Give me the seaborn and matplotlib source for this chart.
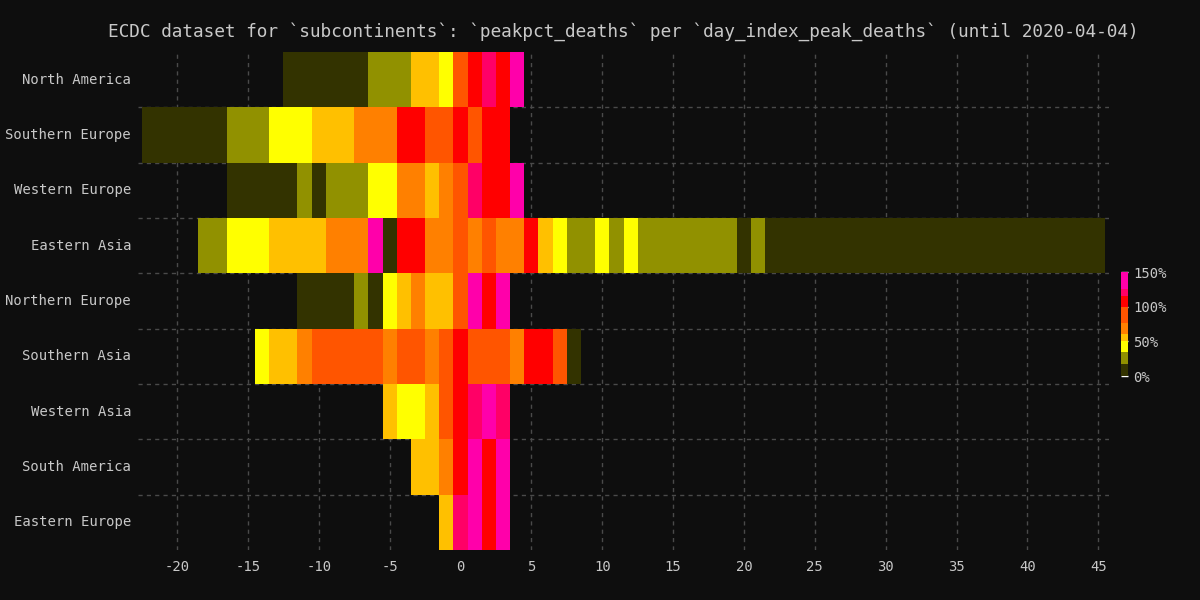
import numpy as np
import pandas as pd
import seaborn as sns
import matplotlib.pyplot as plt
from matplotlib.colors import ListedColormap, BoundaryNorm


#%%
# Data: peakpct_deaths per subcontinent, day index relative to peak
regions = ['North America', 'Southern Europe', 'Western Europe', 'Eastern Asia',
           'Northern Europe', 'Southern Asia', 'Western Asia', 'South America',
           'Eastern Europe']
start_days = [-12, -22, -16, -18, -11, -14, -5, -3, -1]

north_america = [8, 8, 8, 8, 8, 8, 27, 27, 27, 55, 55, 42, 88, 107, 120, 107, 138]
southern_europe = [8, 8, 8, 8, 8, 8, 27, 27, 27, 42, 42, 42, 55, 55, 55, 68, 68, 68,
                   107, 107, 88, 88, 107, 88, 107, 107]
western_europe = [8, 8, 8, 8, 8, 27, 8, 27, 27, 27, 42, 42, 68, 68, 55, 68, 88, 120,
                  107, 107, 138]
eastern_asia = [27, 27, 42, 42, 42, 55, 55, 55, 55, 68, 68, 68, 138, 8, 107, 107, 68, 68,
                88, 68, 88, 68, 68, 107, 55, 42, 27, 27, 42, 27, 42,
                27, 27, 27, 27, 27, 27, 27, 8, 27,
                8, 8, 8, 8, 8, 8, 8, 8, 8, 8, 8, 8, 8, 8, 8, 8, 8, 8, 8, 8, 8, 8, 8, 8]
northern_europe = [8, 8, 8, 8, 27, 8, 42, 55, 68, 55, 55, 88, 138, 107, 138]
southern_asia = [42, 55, 55, 68, 88, 88, 88, 88, 88, 68, 88, 88, 68, 88, 107, 88, 88, 88,
                 68, 107, 107, 88, 8]
western_asia = [55, 42, 42, 55, 88, 107, 120, 138, 120]
south_america = [55, 55, 68, 107, 138, 107, 138]
eastern_europe = [55, 120, 138, 107, 138]

series = [north_america, southern_europe, western_europe, eastern_asia, northern_europe,
          southern_asia, western_asia, south_america, eastern_europe]

days = list(range(-22, 46))
x_ticks = list(range(-20, 46, 5))

# discrete colour scale (peakpct in %)
bounds = [0, 18, 35, 50, 60, 77, 100, 115, 125, 150]
colors = ['#333300', '#919100', '#ffff00', '#ffc000', '#ff8000',
          '#ff5500', '#ff0000', '#ff0066', '#ff00aa']

#%%
df = pd.DataFrame(np.nan, index=regions, columns=days)
for region, start, vals in zip(regions, start_days, series):
    df.loc[region, start:start + len(vals) - 1] = vals

#%%
bg = '#0e0e0e'
fg = '#c8c8c8'
sns.set_style('dark', rc={'axes.facecolor': bg, 'figure.facecolor': bg,
                          'text.color': fg, 'xtick.color': fg, 'ytick.color': fg,
                          'axes.edgecolor': bg})
plt.rcParams['font.family'] = ['DejaVu Sans Mono']

cmap = ListedColormap(colors)
norm = BoundaryNorm(bounds, cmap.N)

fig = plt.figure(figsize=(12, 6), dpi=100)
ax = fig.add_axes([138 / 1200, 50 / 600, 971 / 1200, 498 / 600])
cax = fig.add_axes([1121 / 1200, 1 - 376 / 600, 7 / 1200, 104 / 600])

sns.heatmap(df, ax=ax, cmap=cmap, norm=norm, cbar_ax=cax, linewidths=0,
            cbar_kws={'ticks': [0, 50, 100, 150], 'format': '%d%%',
                      'spacing': 'proportional'})

# x axis in day units (column j covers day -22 + j)
ax.set_xlim(-0.25, len(days) + 0.25)
ax.set_ylim(len(regions), 0)
ax.set_xticks([d - days[0] + 0.5 for d in x_ticks])
ax.set_xticklabels([str(d) for d in x_ticks], rotation=0)
ax.set_yticks(np.arange(len(regions)) + 0.5)
ax.set_yticklabels(regions, rotation=0)
ax.set_xlabel('')
ax.set_ylabel('')

# dashed grid: day ticks and row boundaries
ax.set_yticks(np.arange(1, len(regions)), minor=True)
ax.set_axisbelow(True)
ax.xaxis.grid(True, which='major', linestyle=(0, (3, 3)), color='#4a4a4a', linewidth=1)
ax.yaxis.grid(True, which='minor', linestyle=(0, (3, 3)), color='#4a4a4a', linewidth=1)
ax.yaxis.grid(False, which='major')
ax.tick_params(axis='both', which='both', length=0, labelsize=10, colors=fg)
ax.tick_params(axis='x', pad=7)
ax.tick_params(axis='y', pad=5)
for s in ax.spines.values():
    s.set_visible(False)

ax.set_title('ECDC dataset for `subcontinents`: `peakpct_deaths` per '
             '`day_index_peak_deaths` (until 2020-04-04)',
             fontsize=12.8, color=fg, pad=11)

# colorbar styling
cax.minorticks_off()
cax.tick_params(direction='in', length=5, width=1, color='white', labelsize=10,
                labelcolor=fg, pad=4)
cax.set_ylim(0, 150)

fig.savefig('out.png', dpi=100, facecolor=bg)
